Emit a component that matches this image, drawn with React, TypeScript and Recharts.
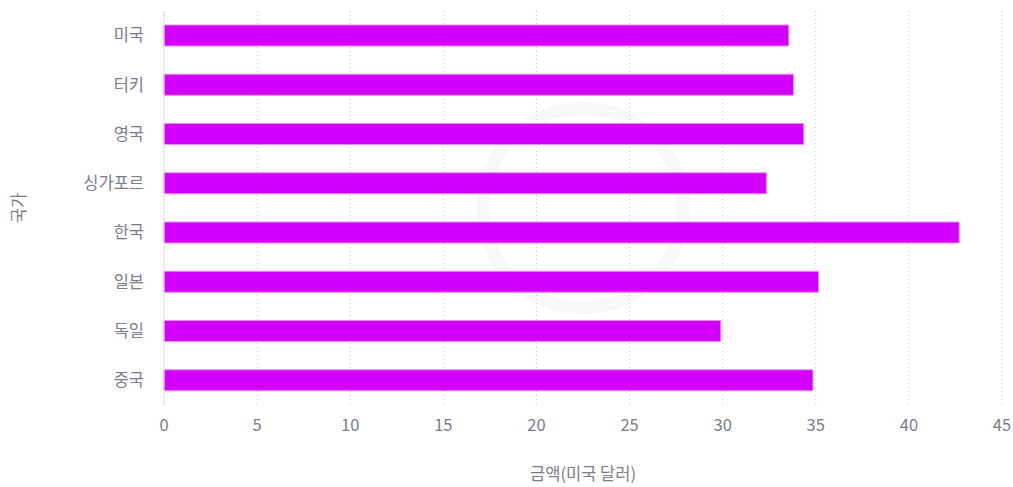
import { Bar, BarChart, CartesianGrid, XAxis, YAxis } from 'recharts'

const countries = ['미국', '터키', '영국', '싱가포르', '한국', '일본', '독일', '중국']
const amounts = [33.55, 33.8, 34.35, 32.35, 42.7, 35.15, 29.9, 34.85]
const xTicks = [0, 5, 10, 15, 20, 25, 30, 35, 40, 45]

const data = countries.map((country, i) => ({ country, amount: amounts[i] }))

const font = '"Noto Sans CJK KR", "Noto Sans", sans-serif'
const tickStyle = { fontSize: 16.5, fill: '#7b7b8f', fontFamily: font }

export default function App() {
  return (
    <div style={{ position: 'absolute', left: 0, top: 0, width: 1013, height: 487, background: '#fff' }}>
      <svg width={1013} height={487} style={{ position: 'absolute', left: 0, top: 0 }}>
        <circle cx={583} cy={208} r={100} fill="none" stroke="#f8f8f8" strokeWidth={13} />
      </svg>
      <div style={{ position: 'absolute', left: 0, top: 0 }}>
        <BarChart
          width={1013}
          height={487}
          data={data}
          layout="vertical"
          margin={{ top: 11, right: 11, left: 0, bottom: 0 }}
          barSize={21}
        >
          <CartesianGrid horizontal={false} stroke="#c8c8cc" strokeDasharray="1 3" />
          <XAxis
            type="number"
            domain={[0, 45]}
            ticks={xTicks}
            axisLine={false}
            tickLine={false}
            tickMargin={8}
            height={82}
            tick={tickStyle}
            label={{
              value: '금액(미국 달러)',
              position: 'insideBottom',
              offset: 7,
              style: { fontSize: 16.5, fill: '#7b7b8f', fontFamily: font },
            }}
          />
          <YAxis
            type="category"
            dataKey="country"
            width={164}
            tickLine={false}
            tickMargin={14}
            axisLine={{ stroke: '#dcdce2' }}
            tick={tickStyle}
            label={{
              content: (props: any) => {
                const vb = props.viewBox || {}
                const cy = (vb.y ?? 10) + (vb.height ?? 395) / 2
                return (
                  <text
                    x={18}
                    y={cy}
                    transform={`rotate(-90, 18, ${cy})`}
                    textAnchor="middle"
                    dominantBaseline="central"
                    style={{ fontSize: 16.5, fill: '#7b7b8f', fontFamily: font }}
                  >
                    국가
                  </text>
                )
              },
            }}
          />
          <Bar dataKey="amount" fill="#d400ff" stroke="#e58cff" strokeWidth={1} isAnimationActive={false} />
        </BarChart>
      </div>
    </div>
  )
}
